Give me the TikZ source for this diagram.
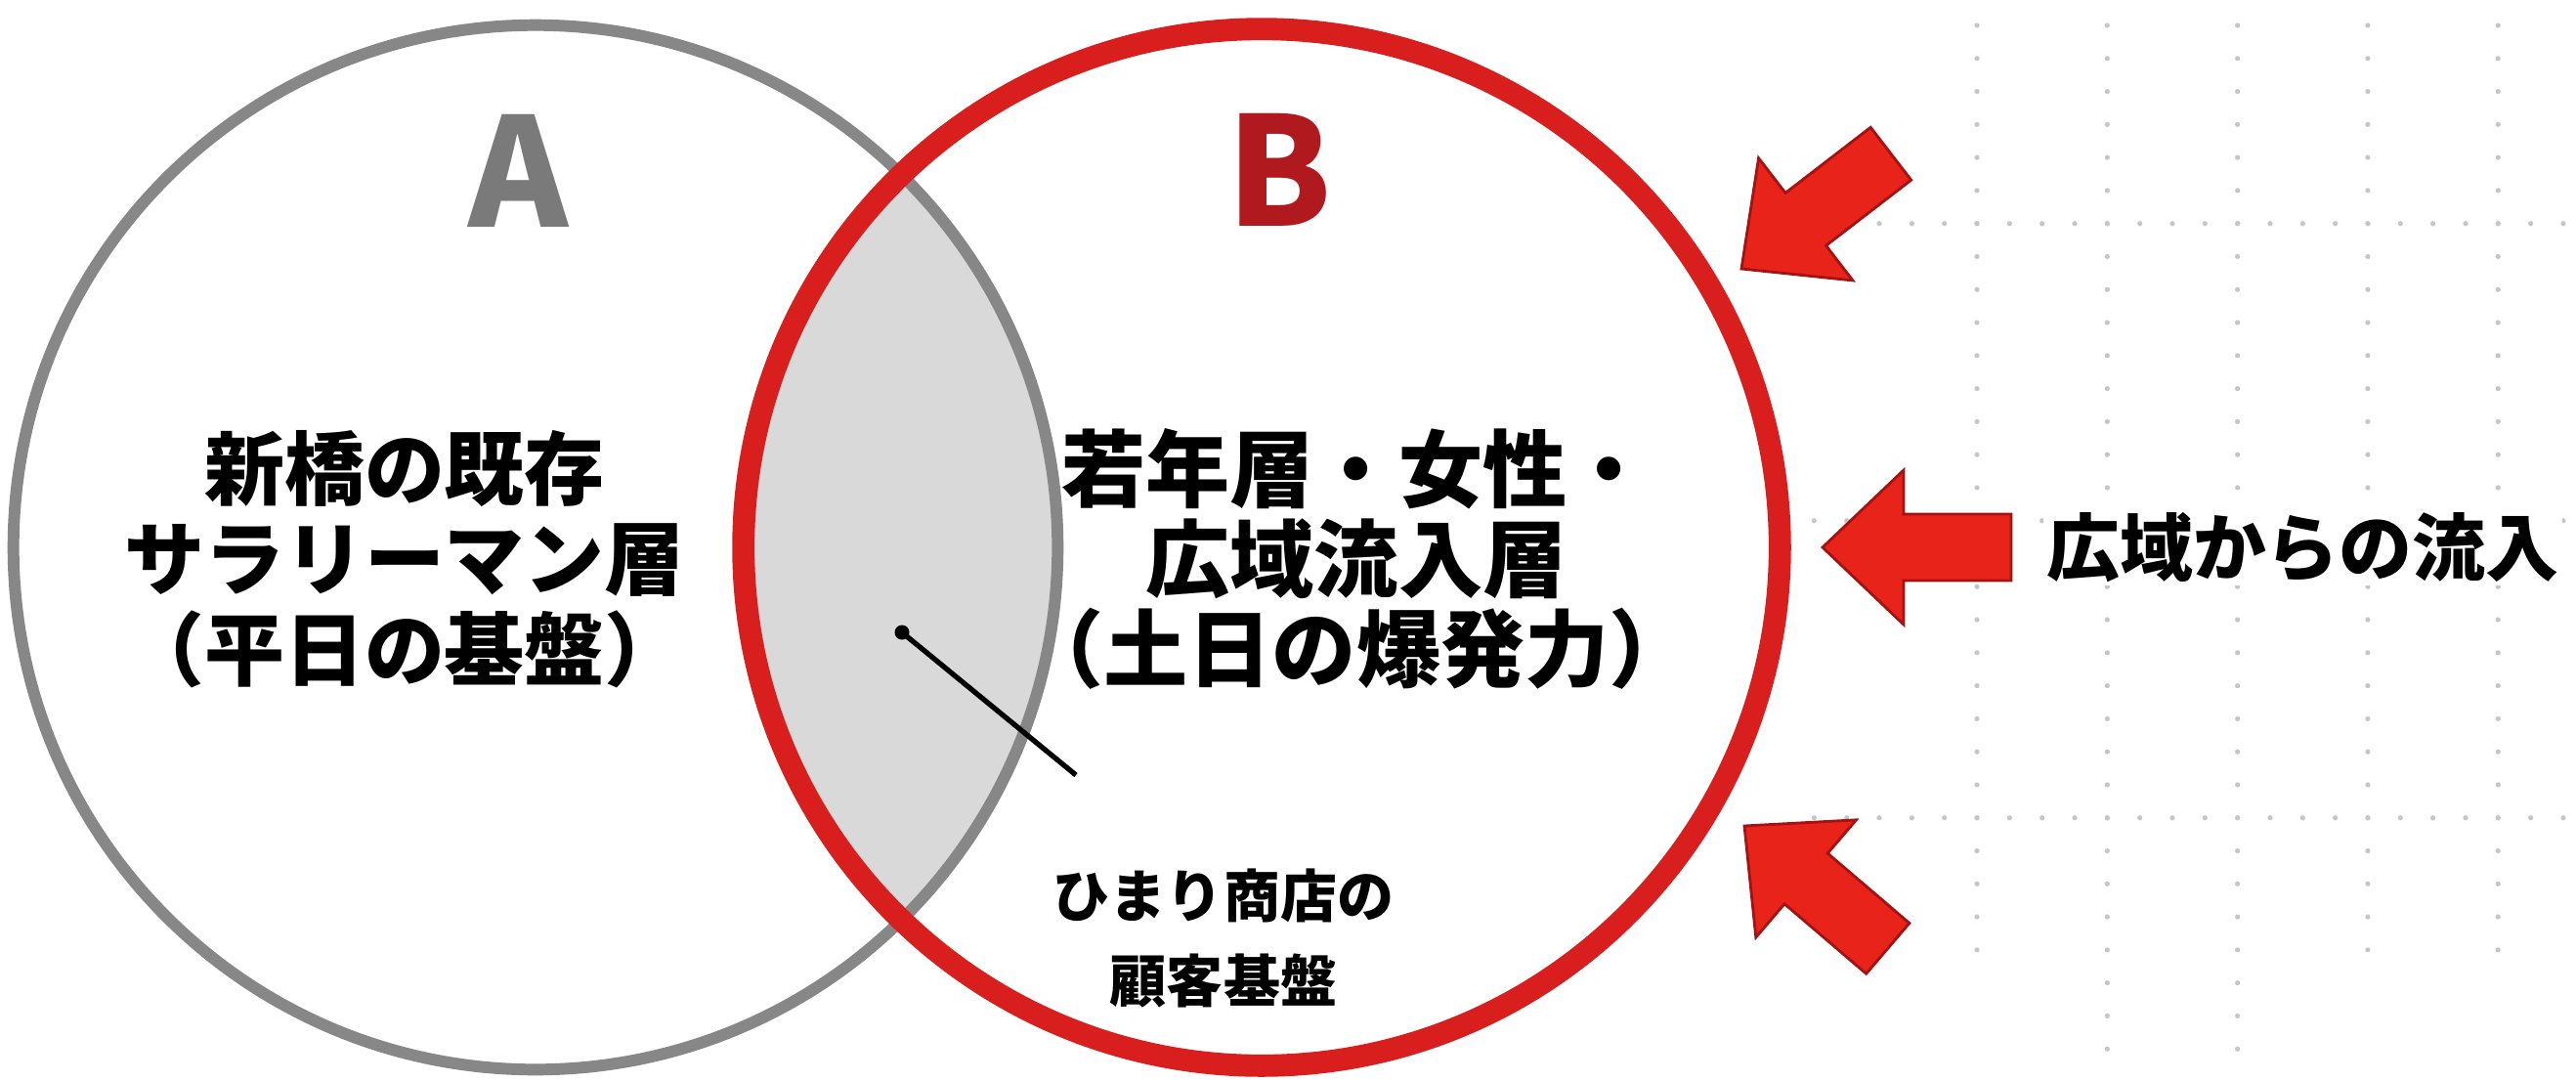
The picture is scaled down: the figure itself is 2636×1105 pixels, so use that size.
\documentclass[tikz,border=0pt]{standalone}
\usepackage{fontspec}
\newfontfamily\jpb{Noto Sans CJK JP Black}
\definecolor{ringA}{HTML}{878787}
\definecolor{letA}{HTML}{7A7A7A}
\definecolor{lensc}{HTML}{D9D9D9}
\definecolor{ringB}{HTML}{D91E1E}
\definecolor{letB}{HTML}{B0191D}
\definecolor{arrowf}{HTML}{E8231A}
\definecolor{arrowd}{HTML}{A51212}
\definecolor{gridc}{HTML}{C6C6C6}
\tikzset{
  gdot/.style={fill=gridc},
  ringAst/.style={circle, draw=ringA, line width=3.4pt, inner sep=0pt},
  ringBst/.style={circle, draw=ringB, line width=6.5pt, inner sep=0pt},
  bigletter/.style={font=\jpb\fontsize{44}{44}\selectfont, inner sep=0pt},
  jleft/.style={align=center, font=\jpb\fontsize{23.3}{26.2}\selectfont, inner sep=0pt},
  jright/.style={align=center, font=\jpb\fontsize{24.5}{26.2}\selectfont, inner sep=0pt},
  jsmall/.style={align=center, font=\jpb\fontsize{16.5}{25}\selectfont, inner sep=0pt},
  redarr/.style={fill=arrowf, draw=arrowd, line width=0.8pt, line join=miter}
}
\newcommand\redarrow[2]{%
  \begin{scope}[shift={#1}, rotate=#2]
    \filldraw[redarr] (0,0) -- (83,-79) -- (83,-34) -- (193,-34) -- (193,34) -- (83,34) -- (83,79) -- cycle;
  \end{scope}}
\begin{document}
\begin{tikzpicture}[x=0.01cm,y=-0.01cm]
\useasboundingbox (0,0) rectangle (2636,1105);
\fill[white] (0,0) rectangle (2636,1105);
% dotted grid
\foreach \cx/\n in {2023/28, 2156.3/31, 2289.6/31, 2422.9/28, 2556.2/28} {
  \foreach \k in {0,...,\n} {\fill[gdot] (\cx, 26+\k*33.78) circle[radius=0.026cm];}
}
\foreach \ry/\s in {228.7/-3, 532.7/-5, 836.7/-5} {
  \foreach \k in {\s,...,18} {\fill[gdot] (2023+\k*33.33, \ry) circle[radius=0.026cm];}
}
% lens
\begin{scope}
  \clip (548,560) circle[radius=5.34cm];
  \fill[lensc] (1291,560) circle[radius=5.3cm];
\end{scope}
\node[ringAst, minimum size=10.68cm] (cA) at (548,560) {};
\node[ringBst, minimum size=10.6cm] (cB) at (1291,560) {};
% letters
\node[bigletter, text=letA] (la) at (531,175) {A};
\node[bigletter, text=letB] (lb) at (1309,174) {B};
% texts
\node[jleft] (tA) at (414,572) {新橋の既存\\サラリーマン層\\（平日の基盤）};
\node[jright] (tB) at (1388,572) {若年層・女性・\\広域流入層\\（土日の爆発力）};
\node[jsmall] (tC) at (1252,960) {ひまり商店の\\顧客基盤};
% pointer
\node[circle, fill=black, inner sep=0pt, minimum size=0.15cm] (dot) at (923,647) {};
\coordinate (pend) at (1101,793);
\draw[line width=1.5pt] (dot.center) -- (pend);
% arrows
\redarrow{(1782,275)}{37.6}
\redarrow{(1865,560)}{0}
\redarrow{(1785,845)}{-40.5}
\node[anchor=west, font=\jpb\fontsize{21.3}{26}\selectfont, fill=white, inner sep=1pt] (inflow) at (2090,560) {広域からの流入};
\end{tikzpicture}
\end{document}
